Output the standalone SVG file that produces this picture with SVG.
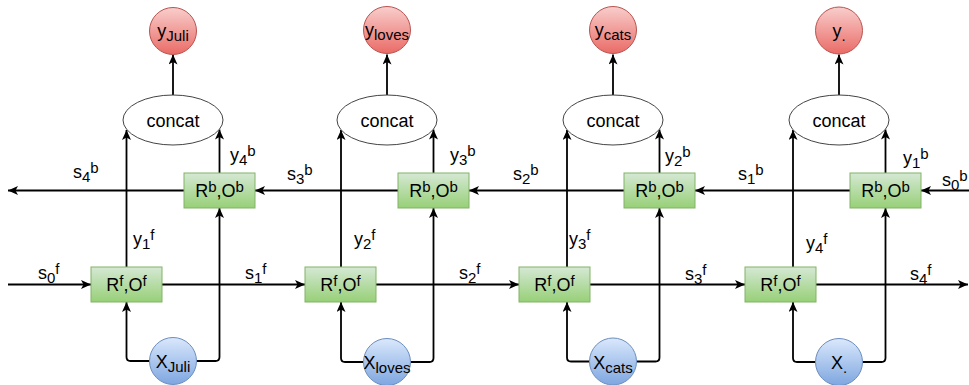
<svg xmlns="http://www.w3.org/2000/svg" width="969" height="385" viewBox="0 0 969 385">
<defs>
<linearGradient id="gGreen" x1="0" y1="0" x2="0" y2="1"><stop offset="0" stop-color="#d5e8d4"/><stop offset="1" stop-color="#97d077"/></linearGradient>
<linearGradient id="gRed" x1="0" y1="0" x2="0" y2="1"><stop offset="0" stop-color="#f8cecc"/><stop offset="1" stop-color="#ea6b66"/></linearGradient>
<linearGradient id="gBlue" x1="0" y1="0" x2="0" y2="1"><stop offset="0" stop-color="#dae8fc"/><stop offset="1" stop-color="#7ea6e0"/></linearGradient>
<marker id="arr" markerUnits="userSpaceOnUse" markerWidth="12" markerHeight="10" refX="10" refY="4.5" orient="auto" viewBox="0 0 12 10">
<path d="M0,0 L10,4.5 L0,9 L2.5,4.5 Z" fill="#000"/>
</marker>
<style>
.box{fill:url(#gGreen);stroke:#82b366;stroke-width:1}
.red{fill:url(#gRed);stroke:#b85450;stroke-width:1}
.blue{fill:url(#gBlue);stroke:#6c8ebf;stroke-width:1}
.ell{fill:#fff;stroke:#444;stroke-width:1}
text{font-family:"Liberation Sans",Arial,Helvetica,sans-serif;font-size:18px;fill:#000}
.c{text-anchor:middle}
.s{font-size:15px}
.e{fill:none;stroke:#000;stroke-width:1.8;marker-end:url(#arr)}
</style>
</defs>

<g id="connectors">
<!-- forward chain -->
<path class="e" d="M8,284.5 H91"/>
<path class="e" d="M162,284.5 H305"/>
<path class="e" d="M376,284.5 H519"/>
<path class="e" d="M590,284.5 H745"/>
<path class="e" d="M816,284.5 H968"/>
<!-- backward chain -->
<path class="e" d="M969,190.5 H921"/>
<path class="e" d="M850,190.5 H695"/>
<path class="e" d="M624,190.5 H469"/>
<path class="e" d="M398,190.5 H255"/>
<path class="e" d="M184,190.5 H8"/>
<!-- column 1 -->
<path class="e" d="M126.5,267 V130"/>
<path class="e" d="M219.5,173 V129.5"/>
<path class="e" d="M173,95 V54.5"/>
<path class="e" d="M149.5,361 H130.5 Q126.5,361 126.5,357 V302"/>
<path class="e" d="M196.5,361 H215.5 Q219.5,361 219.5,357 V208"/>
<!-- column 2 -->
<path class="e" d="M341,267 V130"/>
<path class="e" d="M433.5,173 V129.5"/>
<path class="e" d="M387,95 V54.5"/>
<path class="e" d="M363.5,362 H345 Q341,362 341,358 V302"/>
<path class="e" d="M410.5,362 H429.5 Q433.5,362 433.5,358 V208"/>
<!-- column 3 -->
<path class="e" d="M567,267 V130"/>
<path class="e" d="M659.5,173 V129.5"/>
<path class="e" d="M613,95 V54.5"/>
<path class="e" d="M589.5,361.5 H571 Q567,361.5 567,357.5 V302"/>
<path class="e" d="M636.5,361.5 H655.5 Q659.5,361.5 659.5,357.5 V208"/>
<!-- column 4 -->
<path class="e" d="M793,267 V130"/>
<path class="e" d="M885.5,173 V129.5"/>
<path class="e" d="M839,95 V54.5"/>
<path class="e" d="M815.5,362 H797 Q793,362 793,358 V302"/>
<path class="e" d="M862.5,362 H881.5 Q885.5,362 885.5,358 V208"/>
</g>

<g id="edge-labels">
<text x="73" y="178">s<tspan class="s" dy="4">4</tspan><tspan class="s" dy="-9">b</tspan></text>
<text x="230" y="161">y<tspan class="s" dy="4">4</tspan><tspan class="s" dy="-9">b</tspan></text>
<text x="287" y="180">s<tspan class="s" dy="4">3</tspan><tspan class="s" dy="-9">b</tspan></text>
<text x="450" y="161">y<tspan class="s" dy="4">3</tspan><tspan class="s" dy="-9">b</tspan></text>
<text x="513" y="180">s<tspan class="s" dy="4">2</tspan><tspan class="s" dy="-9">b</tspan></text>
<text x="665" y="162">y<tspan class="s" dy="4">2</tspan><tspan class="s" dy="-9">b</tspan></text>
<text x="738" y="180">s<tspan class="s" dy="4">1</tspan><tspan class="s" dy="-9">b</tspan></text>
<text x="903" y="164">y<tspan class="s" dy="4">1</tspan><tspan class="s" dy="-9">b</tspan></text>
<text x="942" y="186">s<tspan class="s" dy="4">0</tspan><tspan class="s" dy="-9">b</tspan></text>

<text x="38" y="279">s<tspan class="s" dy="4">0</tspan><tspan class="s" dy="-9">f</tspan></text>
<text x="133" y="245">y<tspan class="s" dy="4">1</tspan><tspan class="s" dy="-9">f</tspan></text>
<text x="245" y="279">s<tspan class="s" dy="4">1</tspan><tspan class="s" dy="-9">f</tspan></text>
<text x="354" y="245">y<tspan class="s" dy="4">2</tspan><tspan class="s" dy="-9">f</tspan></text>
<text x="459" y="279">s<tspan class="s" dy="4">2</tspan><tspan class="s" dy="-9">f</tspan></text>
<text x="569" y="245">y<tspan class="s" dy="4">3</tspan><tspan class="s" dy="-9">f</tspan></text>
<text x="685" y="280">s<tspan class="s" dy="4">3</tspan><tspan class="s" dy="-9">f</tspan></text>
<text x="806" y="249">y<tspan class="s" dy="4">4</tspan><tspan class="s" dy="-9">f</tspan></text>
<text x="910" y="280">s<tspan class="s" dy="4">4</tspan><tspan class="s" dy="-9">f</tspan></text>
</g>

<!-- column 1 nodes -->
<g id="y-juli"><circle class="red" cx="173" cy="31" r="23.5"/><text class="c" x="173" y="37">y<tspan class="s" dy="4">Juli</tspan></text></g>
<g id="concat-1"><ellipse class="ell" cx="173" cy="120" rx="50" ry="25"/><text class="c" x="173" y="126.5">concat</text></g>
<g id="rb-1"><rect class="box" x="184" y="173" width="71" height="35"/><text class="c" x="219.5" y="197">R<tspan class="s" dy="-5">b</tspan><tspan dy="5">,O</tspan><tspan class="s" dy="-5">b</tspan></text></g>
<g id="rf-1"><rect class="box" x="91" y="267" width="71" height="35"/><text class="c" x="126.5" y="291">R<tspan class="s" dy="-5">f</tspan><tspan dy="5">,O</tspan><tspan class="s" dy="-5">f</tspan></text></g>
<g id="x-juli"><circle class="blue" cx="173" cy="361" r="23.5"/><text class="c" x="173" y="368">X<tspan class="s" dy="4">Juli</tspan></text></g>

<!-- column 2 nodes -->
<g id="y-loves"><circle class="red" cx="387" cy="30" r="23.5"/><text class="c" x="387" y="36">y<tspan class="s" dy="4">loves</tspan></text></g>
<g id="concat-2"><ellipse class="ell" cx="387" cy="120" rx="50" ry="25"/><text class="c" x="387" y="126.5">concat</text></g>
<g id="rb-2"><rect class="box" x="398" y="173" width="71" height="35"/><text class="c" x="433.5" y="197">R<tspan class="s" dy="-5">b</tspan><tspan dy="5">,O</tspan><tspan class="s" dy="-5">b</tspan></text></g>
<g id="rf-2"><rect class="box" x="305" y="267" width="71" height="35"/><text class="c" x="340.5" y="291">R<tspan class="s" dy="-5">f</tspan><tspan dy="5">,O</tspan><tspan class="s" dy="-5">f</tspan></text></g>
<g id="x-loves"><circle class="blue" cx="387" cy="362" r="23.5"/><text class="c" x="387" y="369">X<tspan class="s" dy="4">loves</tspan></text></g>

<!-- column 3 nodes -->
<g id="y-cats"><circle class="red" cx="613" cy="30" r="23.5"/><text class="c" x="613" y="36">y<tspan class="s" dy="4">cats</tspan></text></g>
<g id="concat-3"><ellipse class="ell" cx="613" cy="120" rx="50" ry="25"/><text class="c" x="613" y="126.5">concat</text></g>
<g id="rb-3"><rect class="box" x="624" y="173" width="71" height="35"/><text class="c" x="659.5" y="197">R<tspan class="s" dy="-5">b</tspan><tspan dy="5">,O</tspan><tspan class="s" dy="-5">b</tspan></text></g>
<g id="rf-3"><rect class="box" x="519" y="267" width="71" height="35"/><text class="c" x="554.5" y="291">R<tspan class="s" dy="-5">f</tspan><tspan dy="5">,O</tspan><tspan class="s" dy="-5">f</tspan></text></g>
<g id="x-cats"><circle class="blue" cx="613" cy="361.5" r="23.5"/><text class="c" x="613" y="368.5">X<tspan class="s" dy="4">cats</tspan></text></g>

<!-- column 4 nodes -->
<g id="y-dot"><circle class="red" cx="839" cy="30.5" r="23.5"/><text class="c" x="839" y="36.5">y<tspan class="s" dy="4">.</tspan></text></g>
<g id="concat-4"><ellipse class="ell" cx="839" cy="120" rx="50" ry="25"/><text class="c" x="839" y="126.5">concat</text></g>
<g id="rb-4"><rect class="box" x="850" y="173" width="71" height="35"/><text class="c" x="885.5" y="197">R<tspan class="s" dy="-5">b</tspan><tspan dy="5">,O</tspan><tspan class="s" dy="-5">b</tspan></text></g>
<g id="rf-4"><rect class="box" x="745" y="267" width="71" height="35"/><text class="c" x="780.5" y="291">R<tspan class="s" dy="-5">f</tspan><tspan dy="5">,O</tspan><tspan class="s" dy="-5">f</tspan></text></g>
<g id="x-dot"><circle class="blue" cx="839" cy="362" r="23.5"/><text class="c" x="839" y="369">X<tspan class="s" dy="4">.</tspan></text></g>
</svg>
